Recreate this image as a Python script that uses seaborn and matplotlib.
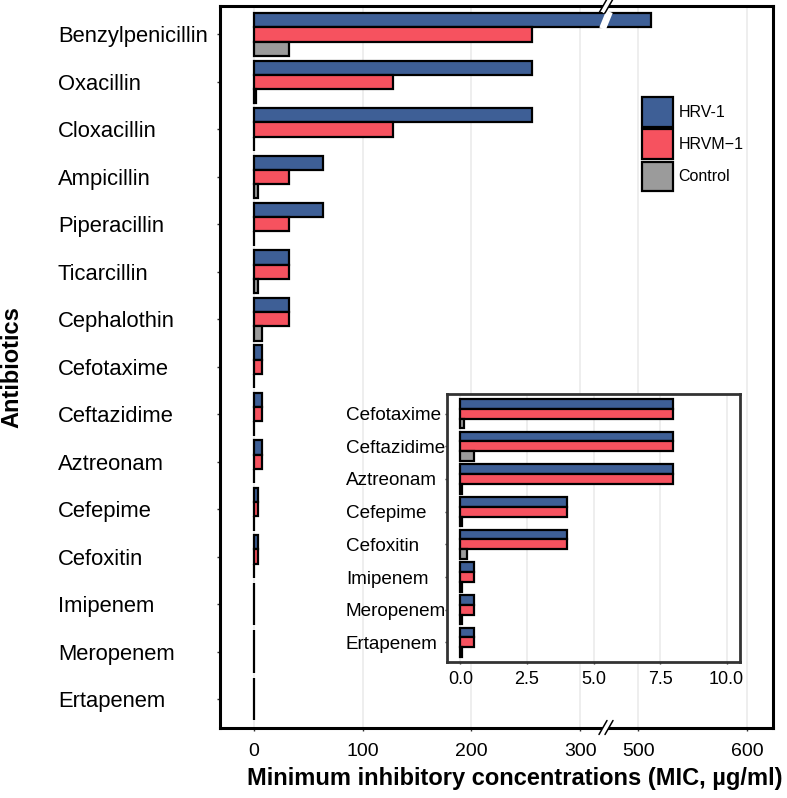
import numpy as np
import pandas as pd
import matplotlib
matplotlib.use('Agg')
import matplotlib.pyplot as plt
import matplotlib.transforms as mtransforms
import seaborn as sns

# data (MIC, ug/ml)
antibiotics = ['Benzylpenicillin', 'Oxacillin', 'Cloxacillin', 'Ampicillin', 'Piperacillin',
               'Ticarcillin', 'Cephalothin', 'Cefotaxime', 'Ceftazidime', 'Aztreonam',
               'Cefepime', 'Cefoxitin', 'Imipenem', 'Meropenem', 'Ertapenem']
strains = ['HRV-1', 'HRVM\u22121', 'Control']
hrv1 = [512, 256, 256, 64, 64, 32, 32, 8, 8, 8, 4, 4, 0.5, 0.5, 0.5]
hrvm1 = [256, 128, 128, 32, 32, 32, 32, 8, 8, 8, 4, 4, 0.5, 0.5, 0.5]
control = [32, 2, 0.5, 4, 0.5, 4, 8, 0.125, 0.5, 0.0625, 0.0625, 0.25, 0.0625, 0.0625, 0.0625]
inset_antibiotics = antibiotics[7:]
colors = ['#3E5F96', '#F6525F', '#9B9B9B']

rows = []
for i, ab in enumerate(antibiotics):
    for s, vals in zip(strains, [hrv1, hrvm1, control]):
        rows.append((ab, s, vals[i]))
df = pd.DataFrame(rows, columns=['Antibiotic', 'Strain', 'MIC'])

sns.set_theme(style='white')
plt.rcParams['font.family'] = ['Liberation Sans', 'DejaVu Sans']
plt.rcParams['text.color'] = 'black'

W, H = 787, 798
fig = plt.figure(figsize=(W / 100, H / 100), dpi=100)
ax = fig.add_axes([220 / W, 1 - 727.5 / H, 553 / W, 721.5 / H])

sns.barplot(data=df, x='MIC', y='Antibiotic', hue='Strain', order=antibiotics,
            hue_order=strains, palette=colors, saturation=1, width=0.9,
            edgecolor='black', linewidth=1.6, errorbar=None, ax=ax)

# broken x axis: 0-324 then 471-...
B, G = 324.0, 146.7


def fwd(x):
    x = np.asarray(x, dtype=float)
    return np.where(x <= B, x, np.maximum(x - G, B))


def inv(t):
    t = np.asarray(t, dtype=float)
    return np.where(t <= B, t, t + G)


ax.set_xscale('function', functions=(fwd, inv))
ax.set_xlim(-31, 624)
ax.set_ylim(14.6, -0.6)
ax.set_xticks([0, 100, 200, 300, 500, 600])
ax.set_xticklabels(['0', '100', '200', '300', '500', '600'])
ax.grid(axis='x', color='#EBEBEB', linewidth=1.2)
ax.grid(axis='y', visible=False)
ax.set_axisbelow(True)
for sp in ax.spines.values():
    sp.set_color('black')
    sp.set_linewidth(2.2)
ax.tick_params(axis='x', length=2.2, width=1, color='#333333', pad=9, labelsize=14, bottom=True,
               labelcolor='black')
# left-aligned category labels, starting at x = 58 px
ax.tick_params(axis='y', length=2.2, width=1, color='#333333', pad=(220 - 58) * 0.72 - 2.2,
               labelsize=15.8, left=True, labelcolor='black')
for lab in ax.get_yticklabels():
    lab.set_horizontalalignment('left')

ax.set_xlabel('Minimum inhibitory concentrations (MIC, \u00b5g/ml)', fontsize=17,
              fontweight='bold', color='black')
ax.xaxis.set_label_coords((515 - 220) / 553, -(767 - 727.5) / 721.5)
ax.set_ylabel('Antibiotics', fontsize=17, fontweight='bold', color='black')
ax.yaxis.set_label_coords((23 - 220) / 553, 0.5)

# legend
handles, labels = ax.get_legend_handles_labels()
ax.legend(handles, labels, loc='upper left', bbox_to_anchor=((642 - 220) / 553, 1 - (97 - 6) / 721.5),
          frameon=False, fontsize=11.5, handlelength=1.94, handleheight=2.5, labelspacing=0.15,
          handletextpad=0.35, borderpad=0, borderaxespad=0, labelcolor='black')

# break marks
px = 1 / 553
py = 1 / 721.5
xb = (606 - 220) / 553
for yb in (1.0, 0.0):
    ax.plot([xb - 4 * px, xb + 4 * px], [yb - 6 * py, yb + 6 * py], color='white', lw=3.5,
            transform=ax.transAxes, clip_on=False, zorder=10, solid_capstyle='butt')
    for off in (-3, 3):
        ax.plot([xb + (off - 4) * px, xb + (off + 4) * px], [yb - 7 * py, yb + 7 * py],
                color='black', lw=1.1, transform=ax.transAxes, clip_on=False, zorder=11)
# gap through the long bar
bt = mtransforms.blended_transform_factory(ax.transAxes, ax.transData)
ax.plot([xb - 3.5 * px, xb + 3.5 * px], [-0.12, -0.48], color='white', lw=5,
        transform=bt, clip_on=False, zorder=10, solid_capstyle='butt')

# inset for the small values
axin = fig.add_axes([447 / W, 1 - 662 / H, 293 / W, 268 / H])
dfin = df[df['Antibiotic'].isin(inset_antibiotics)]
sns.barplot(data=dfin, x='MIC', y='Antibiotic', hue='Strain', order=inset_antibiotics,
            hue_order=strains, palette=colors, saturation=1, width=0.9,
            edgecolor='black', linewidth=1.6, errorbar=None, legend=False, ax=axin)
axin.set_xlim(-0.5, 10.5)
axin.set_ylim(7.6, -0.6)
axin.set_xticks([0, 2.5, 5, 7.5, 10])
axin.set_xticklabels(['0.0', '2.5', '5.0', '7.5', '10.0'])
axin.set_facecolor('white')
axin.grid(axis='x', color='#EBEBEB', linewidth=1.2)
axin.grid(axis='y', visible=False)
axin.set_axisbelow(True)
for sp in axin.spines.values():
    sp.set_color('#333333')
    sp.set_linewidth(2)
axin.tick_params(axis='x', length=1.5, width=1, color='#333333', pad=5, labelsize=13, bottom=True,
                 labelcolor='black')
axin.tick_params(axis='y', length=1.5, width=1, color='#333333', pad=(447 - 346) * 0.72 - 1.5,
                 labelsize=13.6, left=True, labelcolor='black')
for lab in axin.get_yticklabels():
    lab.set_horizontalalignment('left')
axin.set_xlabel('')
axin.set_ylabel('')

fig.savefig('out.png', dpi=100)
